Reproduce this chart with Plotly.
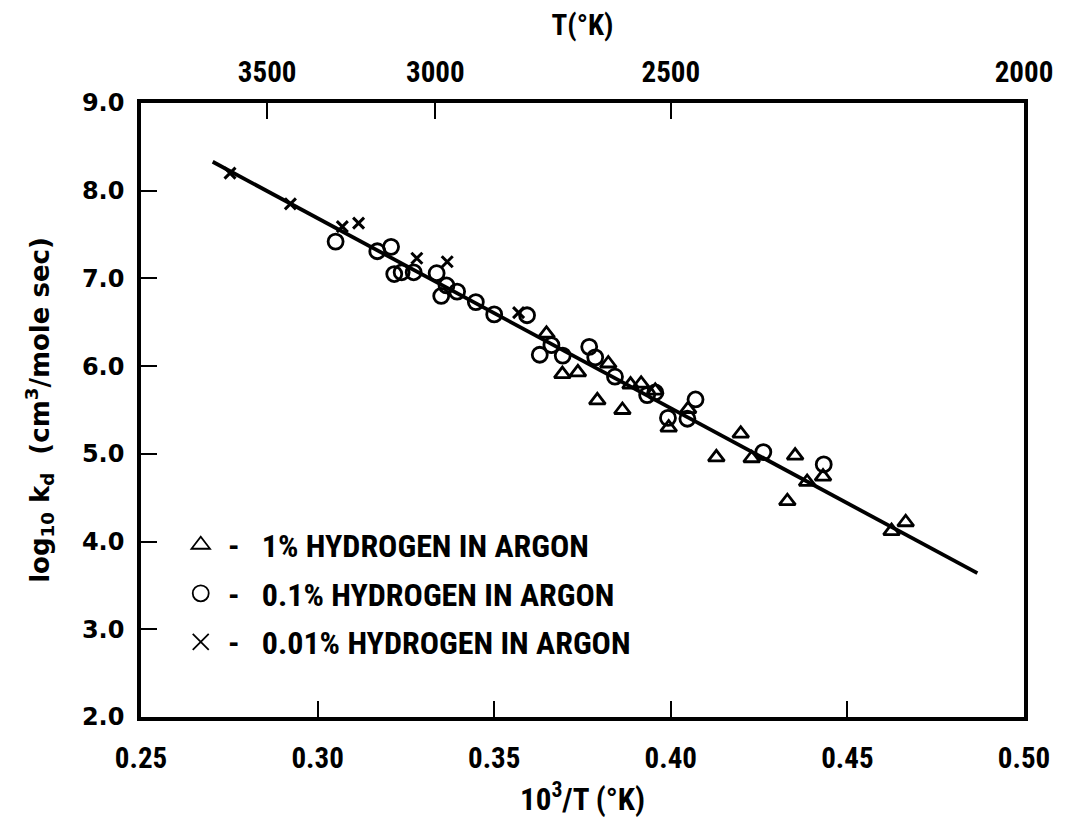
import plotly.graph_objects as go

# ---- data ----
inv_T_1pct = [0.3648, 0.3693, 0.3737, 0.3792, 0.3823, 0.3863, 0.3886, 0.3916, 0.3956,
              0.3994, 0.4049, 0.4129, 0.4198, 0.4229, 0.4330, 0.4352, 0.4386, 0.4431,
              0.4625, 0.4665]
logk_1pct = [6.37, 5.91, 5.93, 5.61, 6.03, 5.50, 5.79, 5.80, 5.72,
             5.30, 5.51, 4.96, 5.23, 4.95, 4.46, 4.98, 4.68, 4.74,
             4.12, 4.22]

inv_T_01pct = [0.3051, 0.3169, 0.3208, 0.3217, 0.3238, 0.3272, 0.3337, 0.3365, 0.3350,
               0.3395, 0.3448, 0.3500, 0.3593, 0.3629, 0.3662, 0.3694, 0.3769, 0.3786,
               0.3842, 0.3933, 0.3956, 0.3992, 0.4047, 0.4070, 0.4262, 0.4433]
logk_01pct = [7.42, 7.31, 7.36, 7.05, 7.07, 7.07, 7.06, 6.92, 6.80,
              6.85, 6.73, 6.59, 6.58, 6.13, 6.24, 6.12, 6.22, 6.10,
              5.88, 5.67, 5.70, 5.41, 5.40, 5.62, 5.02, 4.88]

inv_T_001pct = [0.2752, 0.2923, 0.3070, 0.3116, 0.3281, 0.3367, 0.3569]
logk_001pct = [8.20, 7.85, 7.59, 7.63, 7.23, 7.19, 6.61]

fit_x = [0.2703, 0.4868]
fit_y = [8.33, 3.64]

x_ticks = [0.25, 0.30, 0.35, 0.40, 0.45, 0.50]
x_ticktext = ["0.25", "0.30", "0.35", "0.40", "0.45", "0.50"]
y_ticks = [2, 3, 4, 5, 6, 7, 8, 9]
y_ticktext = ["2.0", "3.0", "4.0", "5.0", "6.0", "7.0", "8.0", "9.0"]
T_ticks = [3500, 3000, 2500, 2000]
T_ticktext = ["3500", "3000", "2500", "2000"]

series_labels = ["1% HYDROGEN IN ARGON", "0.1% HYDROGEN IN ARGON", "0.01% HYDROGEN IN ARGON"]

NARROW = "Roboto Condensed, Liberation Sans Narrow, Arial Narrow, Liberation Sans, sans-serif"
WIDE = "DejaVu Sans, Verdana, sans-serif"
NB = "\u00a0"


def legend_name(label):
    return NB + "-" + NB * 3 + label


fig = go.Figure()

fig.add_trace(go.Scatter(x=fit_x, y=fit_y, mode="lines",
                         line=dict(color="black", width=3.8), showlegend=False, hoverinfo="skip"))

fig.add_trace(go.Scatter(x=inv_T_1pct, y=logk_1pct, mode="markers", showlegend=False,
                         marker=dict(symbol="triangle-up-open", size=14, color="black",
                                     line=dict(width=2.8, color="black"))))
fig.add_trace(go.Scatter(x=inv_T_01pct, y=logk_01pct, mode="markers", showlegend=False,
                         marker=dict(symbol="circle-open", size=15, color="black",
                                     line=dict(width=2.8, color="black"))))
fig.add_trace(go.Scatter(x=inv_T_001pct, y=logk_001pct, mode="markers", showlegend=False,
                         marker=dict(symbol="x-thin-open", size=11, color="black",
                                     line=dict(width=3, color="black"))))

# legend-only entries (thin, larger symbols as in the key of the original)
legend_symbols = ["triangle-up-open", "circle-open", "x-thin-open"]
for i, (lab, sym) in enumerate(zip(series_labels, legend_symbols)):
    fig.add_trace(go.Scatter(x=[None], y=[None], mode="markers", name=legend_name(lab),
                             legendgroup="g%d" % i, hoverinfo="skip",
                             marker=dict(symbol=sym, size=16, color="black",
                                         line=dict(width=1.8, color="black"))))

# top axis trace (invisible) to activate xaxis2
fig.add_trace(go.Scatter(x=[None], y=[None], xaxis="x2", showlegend=False, hoverinfo="skip"))

fig.update_layout(
    width=1057, height=817,
    paper_bgcolor="white", plot_bgcolor="white",
    margin=dict(l=133, r=33, t=88, b=108),
    showlegend=True,
    legend=dict(x=0.045, y=0.325, xanchor="left", yanchor="top",
                font=dict(family=NARROW, size=32, color="black", weight="bold"),
                bgcolor="rgba(0,0,0,0)", tracegroupgap=4, itemsizing="trace"),
    xaxis=dict(range=[0.25, 0.50], tickvals=x_ticks, ticktext=x_ticktext,
               ticks="inside", ticklen=16, tickwidth=2, tickcolor="black",
               showline=True, linewidth=3.5, linecolor="black", mirror=False,
               showgrid=False, zeroline=False, ticklabelstandoff=12,
               tickfont=dict(family=NARROW, size=29, color="black", weight="bold"),
               title=dict(text="10<sup>3</sup>/T (°K)", standoff=16,
                          font=dict(family=NARROW, size=31, color="black", weight="bold"))),
    xaxis2=dict(range=[0.25, 0.50], overlaying="x", side="top",
                tickvals=[1000.0 / t for t in T_ticks], ticktext=T_ticktext,
                ticks="inside", ticklen=16, tickwidth=2, tickcolor="black",
                showline=True, linewidth=3.5, linecolor="black",
                showgrid=False, zeroline=False, ticklabelstandoff=6,
                tickfont=dict(family=NARROW, size=29, color="black", weight="bold"),
                title=dict(text="T(°K)", standoff=14,
                           font=dict(family=NARROW, size=29, color="black", weight="bold"))),
    yaxis=dict(range=[2, 9], tickvals=y_ticks, ticktext=y_ticktext,
               ticks="inside", ticklen=16, tickwidth=2, tickcolor="black",
               showline=True, linewidth=3.5, linecolor="black", mirror=True,
               showgrid=False, zeroline=False, ticklabelstandoff=8,
               tickfont=dict(family=WIDE, size=24, color="black", weight="bold"),
               title=dict(text="log<sub>10</sub> k<sub>d</sub>  (cm<sup>3</sup>/mole sec)", standoff=26,
                          font=dict(family=WIDE, size=26, color="black", weight="bold"))),
)

fig.write_html("out.html")
